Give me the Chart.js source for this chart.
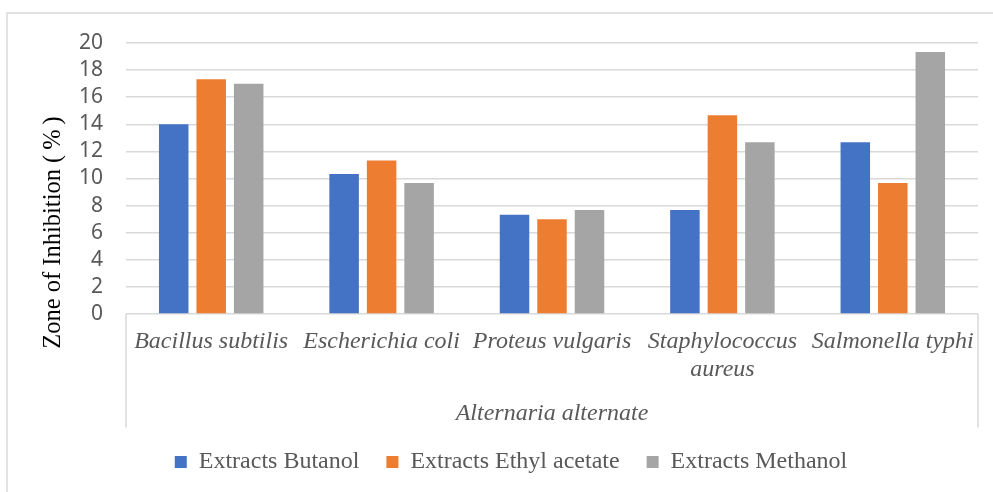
<!DOCTYPE html>
<html>
<head>
<meta charset="utf-8">
<script src="https://cdn.jsdelivr.net/npm/chart.js@4/dist/chart.umd.min.js"></script>
<style>
  html, body { margin: 0; padding: 0; background: #ffffff; }
  #wrap { width: 993px; height: 492px; position: relative; }
</style>
</head>
<body>
<div id="wrap"><canvas id="chart" width="993" height="492"></canvas></div>
<script>
// Bacteria tested, grouped under the fungal source
const categories = ['Bacillus subtilis', 'Escherichia coli', 'Proteus vulgaris', ['Staphylococcus', 'aureus'], 'Salmonella typhi'];
const groupLabel = 'Alternaria alternate';

// Zone of inhibition (%) per extract
const seriesNames = ['Extracts Butanol', 'Extracts Ethyl acetate', 'Extracts Methanol'];
const butanol      = [14, 10.33, 7.33, 7.67, 12.67];
const ethylAcetate = [17.33, 11.33, 7, 14.67, 9.67];
const methanol     = [17, 9.67, 7.67, 12.67, 19.33];

// Value axis ticks
const yMin = 0;
const yMax = 20;
const yStep = 2;
const yTitle = 'Zone of Inhibition (\u2009%\u2009)';

const GRID = '#d9d9d9';
const TEXT = '#595959';

// Frame, category box lines, group label and vertical axis title
const decorations = {
  id: 'decorations',
  beforeDraw(chart) {
    const ctx = chart.ctx;
    ctx.save();
    ctx.fillStyle = '#ffffff';
    ctx.fillRect(0, 0, chart.width, chart.height);
    ctx.strokeStyle = GRID;
    ctx.lineWidth = 1.5;
    ctx.strokeRect(7, 13, chart.width + 20, chart.height + 20);
    ctx.restore();
  },
  afterDraw(chart) {
    const ctx = chart.ctx;
    const a = chart.chartArea;
    ctx.save();
    ctx.strokeStyle = GRID;
    ctx.lineWidth = 1.5;
    ctx.beginPath();
    ctx.moveTo(a.left, a.bottom);
    ctx.lineTo(a.left, 427.5);
    ctx.moveTo(a.right, a.bottom);
    ctx.lineTo(a.right, 427.5);
    ctx.stroke();

    ctx.fillStyle = TEXT;
    ctx.font = 'italic 24px "Liberation Serif", "Times New Roman", serif';
    ctx.textAlign = 'center';
    ctx.textBaseline = 'alphabetic';
    ctx.fillText(groupLabel, (a.left + a.right) / 2, 420);

    ctx.translate(54, 232.5);
    ctx.rotate(-Math.PI / 2);
    ctx.fillStyle = '#000000';
    ctx.font = '24.5px "Liberation Serif", "Times New Roman", serif';
    ctx.textBaseline = 'middle';
    ctx.fillText(yTitle, 0, 0);
    ctx.restore();
  }
};

new Chart(document.getElementById('chart'), {
  type: 'bar',
  data: {
    labels: categories,
    datasets: [
      { label: seriesNames[0], data: butanol,      backgroundColor: '#4472C4' },
      { label: seriesNames[1], data: ethylAcetate, backgroundColor: '#ED7D31' },
      { label: seriesNames[2], data: methanol,     backgroundColor: '#A5A5A5' }
    ]
  },
  options: {
    responsive: false,
    animation: false,
    devicePixelRatio: 1,
    layout: { padding: { left: 29, right: 0, top: 43, bottom: 8 } },
    datasets: { bar: { categoryPercentage: 0.66, barPercentage: 0.787 } },
    scales: {
      x: {
        grid: { display: false, drawTicks: false },
        border: { display: false },
        ticks: {
          color: TEXT,
          padding: 14,
          maxRotation: 0,
          minRotation: 0,
          autoSkip: false,
          font: { family: '"Liberation Serif", "Times New Roman", serif', size: 24, style: 'italic', lineHeight: 1.15 }
        },
        afterFit(scale) { scale.height = 109; }
      },
      y: {
        min: yMin,
        max: yMax,
        grid: { color: GRID, lineWidth: 1.5, drawTicks: false },
        border: { display: false },
        ticks: {
          stepSize: yStep,
          autoSkip: false,
          color: TEXT,
          padding: 23,
          font: { family: '"Noto Sans", "Open Sans", sans-serif', size: 21, lineHeight: 1 }
        },
        afterFit(scale) { scale.width = 97; }
      },
      spacer: {
        position: 'right',
        display: true,
        grid: { display: false, drawTicks: false },
        border: { display: false },
        ticks: { display: false },
        afterFit(scale) { scale.width = 15; }
      }
    },
    plugins: {
      legend: {
        position: 'bottom',
        labels: {
          boxWidth: 12,
          boxHeight: 12,
          padding: 27,
          color: TEXT,
          font: { family: '"Liberation Serif", "Times New Roman", serif', size: 24 }
        }
      },
      tooltip: { enabled: false }
    }
  },
  plugins: [decorations]
});
</script>
</body>
</html>
